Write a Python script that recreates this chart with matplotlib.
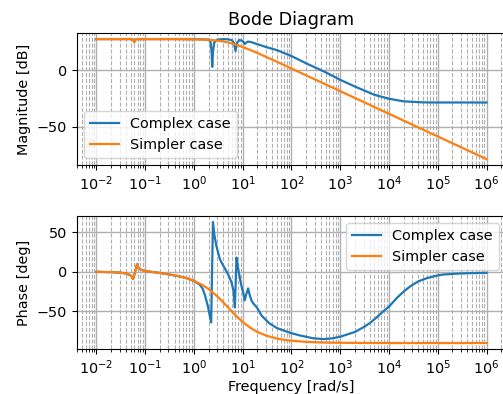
import matplotlib
matplotlib.use("Agg")
import matplotlib.pyplot as plt

plt.rcParams["font.size"] = 10.4
plt.rcParams["lines.linewidth"] = 1.6

# values (frequency in rad/s)
w_simple_mag = [0.01, 0.03, 0.05, 0.055, 0.058, 0.0595, 0.061, 0.064, 0.07, 0.1, 0.3, 0.5,
                1, 1.5, 2, 3, 4, 5, 6, 8, 10, 15, 20, 30, 50, 70, 100, 200, 500,
                1e3, 1e4, 1e5, 1e6]
mag_simple = [27.5, 27.5, 27.5, 27.2, 26.2, 24.8, 26.2, 27.2, 27.5, 27.5, 27.5, 27.5,
              27.3, 27.1, 26.8, 26.2, 25.4, 24.5, 23.6, 22.0, 20.5, 17.5, 15.2, 11.8, 7.5, 4.6, 1.5, -4.5, -12.5,
              -18.5, -38.5, -58.5, -78.5]

w_complex_mag = [0.01, 0.03, 0.05, 0.055, 0.058, 0.0595, 0.061, 0.064, 0.07, 0.1, 0.5,
                 1, 1.5, 2.0, 2.2, 2.3, 2.37, 2.45, 2.6, 3.0, 4.0, 5.0, 6.0, 6.6, 7.1, 7.6,
                 8.5, 9.5, 10.3, 11.0, 11.8, 12.9, 15, 20, 30, 50, 100, 200, 500,
                 1e3, 2e3, 5e3, 1e4, 2e4, 5e4, 1e5, 1e6]
mag_complex = [27.5, 27.5, 27.5, 27.2, 26.2, 24.8, 26.2, 27.2, 27.5, 27.5, 27.5,
               27.4, 27.3, 27.0, 24.5, 16, 3, 16, 24.5, 27.0, 27.5, 27.3, 26.5, 24, 17, 24,
               26.6, 26.2, 25, 23.2, 24.5, 25.3, 24.8, 23, 20.5, 17.8, 12.5, 6.1, -1.8,
               -8.5, -14.4, -21.7, -25.2, -27.5, -28.4, -28.5, -28.5]

w_simple_ph = [0.01, 0.02, 0.03, 0.04, 0.05, 0.054, 0.0565, 0.062, 0.068, 0.072, 0.08, 0.1,
               0.2, 0.3, 0.5, 0.7, 1, 1.5, 2, 3, 4, 5, 6, 8, 10, 15, 20, 30, 50, 70,
               100, 200, 500, 1e3, 1e4, 1e6]
ph_simple = [0, -0.4, -1, -2, -4.5, -7, -9, 0, 9.5, 5, 3, 1,
             -1.5, -3.2, -5.7, -8, -11.3, -16.7, -21.8, -31, -38.7, -45, -50.2, -58, -63.4, -71.6, -76, -80.5, -84.3, -85.9,
             -87.1, -88.6, -89.4, -89.7, -90, -90]

w_complex_ph = [0.01, 0.02, 0.03, 0.04, 0.05, 0.054, 0.0565, 0.062, 0.068, 0.072, 0.08, 0.1,
                0.2, 0.3, 0.5, 0.7, 1, 1.32, 1.5, 1.67, 1.94, 2.1, 2.25, 2.45, 2.6, 2.87,
                3.4, 4.0, 5.0, 5.9, 6.5, 6.9, 7.45, 8.1, 8.8, 9.6, 10.2, 11.0, 11.6, 12.9,
                14, 15.2, 17, 19.5, 24.5, 35, 50, 93, 150, 280, 450, 700, 1e3, 2e3, 3e3,
                4e3, 5.5e3, 7.6e3, 1e4, 1.45e4, 2e4, 2.7e4, 4e4, 6e4, 1e5, 1.3e5, 2.5e5,
                4.6e5, 1e6]
ph_complex = [0, -0.4, -1, -2, -4.5, -7, -9, 0, 9.5, 5, 3, 1,
              -1.5, -3.2, -5.7, -8, -11.5, -16.4, -21, -29, -44, -55, -64, 63, 48, 33,
              16, 7.6, -3, -13.5, -25, -45, 18, 3.4, -9, -20, -26, -36, -30, -21,
              -30, -36.6, -41, -45, -55.5, -65, -71, -77, -80.5, -84, -85, -84, -82, -76, -70,
              -65, -58, -50, -44, -33, -25, -18.5, -12, -8, -4.5, -3.4, -2.3,
              -1.7, -1.3]

fig = plt.figure(figsize=(5.03, 3.94), dpi=100)
ax1 = fig.add_axes([0.153, 0.581, 0.853, 0.335])
ax2 = fig.add_axes([0.153, 0.114, 0.853, 0.338])

#magnitude plot
ax1.semilogx(w_complex_mag, mag_complex, label="Complex case")
ax1.semilogx(w_simple_mag, mag_simple, label="Simpler case")
ax1.set_title("Bode Diagram", fontsize=12.6)
ax1.set_ylabel("Magnitude [dB]")
ax1.legend(loc="lower left")

#phase plot
ax2.semilogx(w_complex_ph, ph_complex, label="Complex case")
ax2.semilogx(w_simple_ph, ph_simple, label="Simpler case")
ax2.set_ylabel("Phase [deg]")
ax2.set_xlabel("Frequency [rad/s]", labelpad=2)
ax2.legend(loc="upper right")

for ax in [ax1, ax2]:
    ax.grid(which="major", color="#b0b0b0", linewidth=1.0)
    ax.grid(which="minor", color="#b0b0b0", linestyle="--", linewidth=0.8)

fig.savefig("out.png", dpi=100)
